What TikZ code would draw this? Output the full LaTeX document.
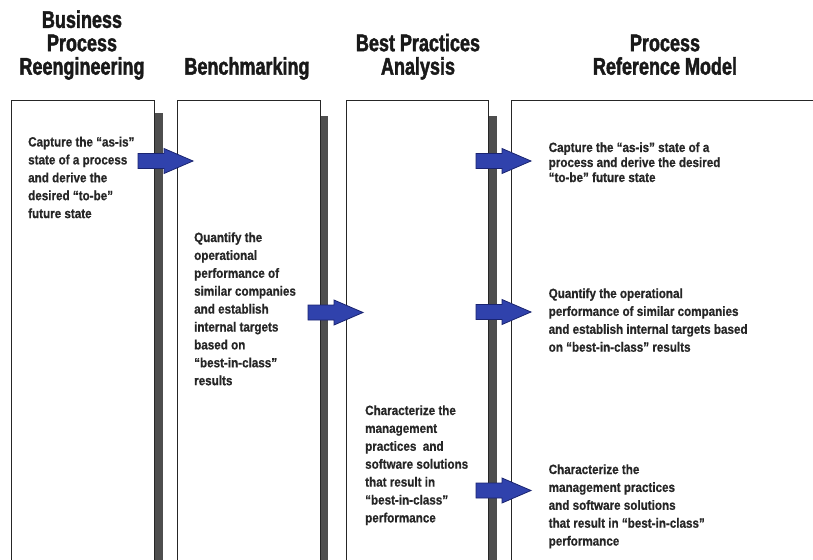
\documentclass[tikz,border=0pt]{standalone}
\usepackage{fontspec}
\setmainfont{Liberation Sans}
% condensed heavy face for the column headings, condensed bold for the notes
\newfontfamily\headface{Liberation Sans}[FakeStretch=0.75,FakeBold=1.8]
\newfontfamily\noteface{Liberation Sans}[FakeStretch=0.87,FakeBold=0.6]
\definecolor{arrowblue}{RGB}{48,66,172}
\definecolor{arrowedge}{RGB}{26,36,112}
\definecolor{shadowgray}{RGB}{78,78,78}
\tikzset{
  colbox/.style={draw=black!85, line width=1.2pt, fill=white, anchor=north west,
    inner sep=0pt, minimum height=520pt},
  colshadow/.style={fill=shadowgray, draw=none},
  % multi-line nodes: the base anchor sits on the last line's baseline
  heading/.style={font=\headface\bfseries\fontsize{24}{23.4}\selectfont,
    align=center, anchor=base, inner sep=0pt, text=black!90},
  note/.style={font=\noteface\bfseries\fontsize{13.4}{17.9}\selectfont,
    align=left, anchor=base west, inner sep=0pt, text=black!85},
  tightnote/.style={note, font=\noteface\bfseries\fontsize{13.4}{15}\selectfont},
  blockarrow/.pic={
    \draw[fill=arrowblue, draw=arrowedge, line width=0.8pt, line join=miter]
      (0,-7.5) -- (26,-7.5) -- (26,-12.5) -- (55,0) -- (26,12.5) -- (26,7.5) -- (0,7.5) -- cycle;
  }
}
\begin{document}
\begin{tikzpicture}[x=1pt, y=-1pt]
  \useasboundingbox (0,0) rectangle (813,559);
  \clip (0,0) rectangle (813,559);

  % drop shadows to the right of the first three columns
  \fill[colshadow] (154.5,113) rectangle (162.5,600);
  \fill[colshadow] (320,116) rectangle (328,600);
  \fill[colshadow] (488.5,116) rectangle (497,600);

  % columns
  \node[colbox, minimum width=143pt] (box1) at (10.5,100) {};
  \node[colbox, minimum width=143pt] (box2) at (176.5,100) {};
  \node[colbox, minimum width=142.5pt] (box3) at (345.5,100) {};
  \node[colbox, minimum width=340pt] (box4) at (511,100) {};

  % column headings, bottom lines aligned
  \node[heading] (h1) at (82,74.6) {Business\\Process\\Reengineering};
  \node[heading] (h2) at (247,74.6) {Benchmarking};
  \node[heading] (h3) at (418,74.6) {Best Practices\\Analysis};
  \node[heading] (h4) at (665,74.6) {Process\\Reference Model};

  % notes in the columns (placed by the baseline of their last line)
  \node[note] (t1) at (28,218.1) {Capture the “as-is”\\state of a process\\and derive the\\desired “to-be”\\future state};
  \node[note] (t2) at (194,385.2) {Quantify the\\operational\\performance of\\similar companies\\and establish\\internal targets\\based on\\“best-in-class”\\results};
  \node[note] (t3) at (365,522.4) {Characterize the\\management\\practices\ \ and\\software solutions\\that result in\\“best-in-class”\\performance};
  \node[tightnote] (t4) at (548.5,182) {Capture the “as-is” state of a\\process and derive the desired\\“to-be” future state};
  \node[note] (t5) at (548.5,351.7) {Quantify the operational\\performance of similar companies\\and establish internal targets based\\on “best-in-class” results};
  \node[note] (t6) at (548.5,545.6) {Characterize the\\management practices\\and software solutions\\that result in “best-in-class”\\performance};

  % block arrows crossing into the next column
  \pic (a1) at (138,161) {blockarrow};
  \pic (a2) at (308,312.5) {blockarrow};
  \pic (a3) at (476,161) {blockarrow};
  \pic (a4) at (476,312) {blockarrow};
  \pic (a5) at (476,490.5) {blockarrow};
\end{tikzpicture}
\end{document}
